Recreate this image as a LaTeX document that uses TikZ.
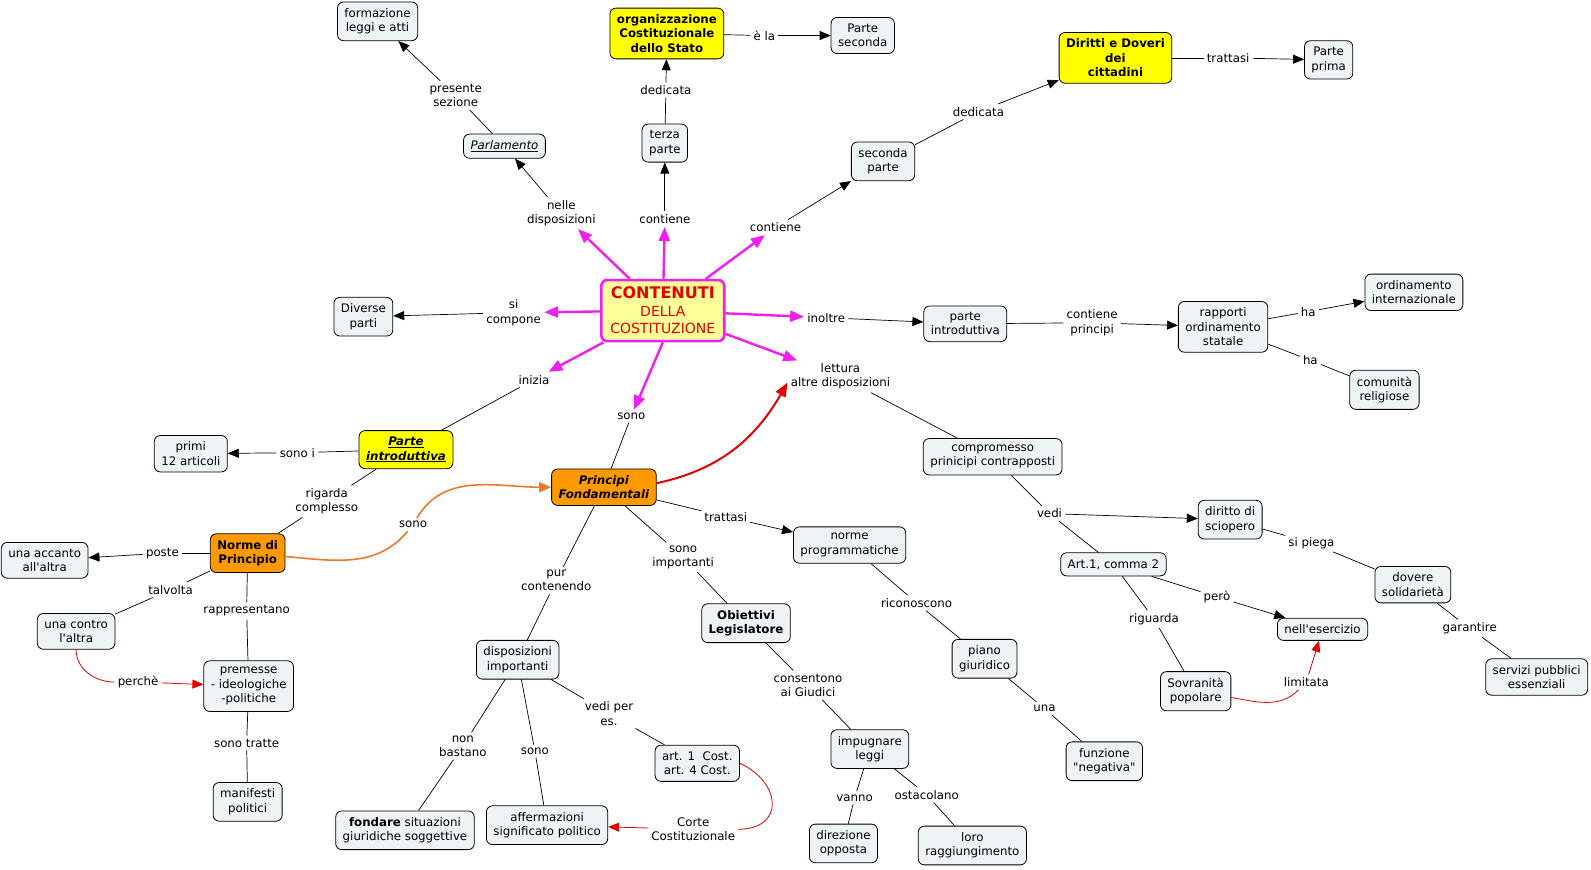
\documentclass[tikz,border=0pt]{standalone}
\usepackage{fontspec}
\setmainfont{DejaVu Sans}[Ligatures=TeXOff]
\usepackage{tikz}
\usetikzlibrary{arrows.meta}

\definecolor{boxfill}{RGB}{238,243,246}
\definecolor{cyellow}{RGB}{255,255,0}
\definecolor{corange}{RGB}{255,153,0}
\definecolor{contfill}{RGB}{255,255,153}
\definecolor{cmag}{RGB}{240,30,240}
\definecolor{cred}{RGB}{228,0,0}
\definecolor{corline}{RGB}{240,120,40}
\newcommand{\mapfont}{\fontsize{11.8}{14.3}\selectfont}

\begin{document}
\begin{tikzpicture}[x=1.015pt, y=1.015pt,
    concept/.style={rectangle, rounded corners=6pt, draw, line width=0.8pt, fill=boxfill, align=center, inner xsep=7pt, inner ysep=6.5pt, font=\mapfont},
    yconcept/.style={concept, fill=cyellow, font=\mapfont\bfseries},
    oconcept/.style={concept, fill=corange, font=\mapfont\bfseries},
    linkph/.style={align=center, inner sep=3pt, font=\mapfont},
    conn/.style={draw, line width=0.7pt},
    arr/.style={conn, -{Triangle[length=11pt,width=9pt]}},
    magarr/.style={draw=cmag, line width=2.4pt, -{Triangle[length=14pt,width=11pt]}},
    redarr/.style={draw=cred, line width=0.8pt, -{Triangle[length=11pt,width=9pt]}},
    redline/.style={draw=cred, line width=0.8pt}]
  \useasboundingbox (0,0) rectangle (1567.5,-856.2);

  \node[rectangle, rounded corners=6pt, draw=cmag, line width=2.6pt, fill=contfill, text=cred, align=center, inner xsep=9pt, inner ysep=7pt, font=\fontsize{14}{17.5}\selectfont] (cont) at (653,-306) {{\fontsize{16}{17.5}\selectfont\bfseries CONTENUTI}\\DELLA\\COSTITUZIONE};

  \node[concept] (form) at (372,-21) {formazione\\leggi e atti};
  \node[yconcept] (org) at (657,-33) {organizzazione\\Costituzionale\\dello Stato};
  \node[concept] (pseconda) at (850,-35) {Parte\\seconda};
  \node[yconcept] (dirdov) at (1099,-57) {Diritti e Doveri\\dei\\cittadini};
  \node[concept] (pprima) at (1309,-59) {Parte\\prima};
  \node[concept] (parl) at (497,-144) {\underline{\textit{Parlamento}}};
  \node[concept] (terza) at (655,-141) {terza\\parte};
  \node[concept] (seconda) at (870,-159) {seconda\\parte};
  \node[concept] (diverse) at (358,-312) {Diverse\\parti};
  \node[concept] (pintro) at (951,-319) {parte\\introduttiva};
  \node[concept] (rapp) at (1205,-322) {rapporti\\ordinamento\\statale};
  \node[concept] (ordint) at (1393,-288) {ordinamento\\internazionale};
  \node[concept] (comrel) at (1364,-384) {comunità\\religiose};
  \node[yconcept] (pintroy) at (400,-443) {\underline{\textit{Parte}}\\\underline{\textit{introduttiva}}};
  \node[concept] (primi) at (188,-447) {primi\\12 articoli};
  \node[oconcept] (princ) at (595,-480) {\textit{Principi}\\\textit{Fondamentali}};
  \node[concept] (compr) at (978,-450) {compromesso\\prinicipi contrapposti};
  \node[concept] (nprog) at (837,-537) {norme\\programmatiche};
  \node[oconcept] (nprinc) at (244,-545) {Norme di\\Principio};
  \node[concept] (accanto) at (44,-552) {una accanto\\all'altra};
  \node[concept] (sciop) at (1212,-512) {diritto di\\sciopero};
  \node[concept] (art1c) at (1097,-556) {Art.1, comma 2};
  \node[concept] (dovere) at (1392,-576) {dovere\\solidarietà};
  \node[concept] (eserc) at (1303,-620) {nell'esercizio};
  \node[concept] (contro) at (75,-622) {una contro\\l'altra};
  \node[concept, font=\mapfont\bfseries] (obiet) at (735,-614) {Obiettivi\\Legislatore};
  \node[concept] (dispimp) at (510,-650) {disposizioni\\importanti};
  \node[concept] (piano) at (970,-649) {piano\\giuridico};
  \node[concept] (premesse) at (245,-676) {premesse\\- ideologiche\\-politiche};
  \node[concept] (sovr) at (1178,-681) {Sovranità\\popolare};
  \node[concept] (servizi) at (1514,-667) {servizi pubblici\\essenziali};
  \node[concept] (art14) at (687,-752) {art. 1~~Cost.\\art. 4 Cost.};
  \node[concept] (impugn) at (857,-738) {impugnare\\leggi};
  \node[concept] (funz) at (1088,-750) {funzione\\"negativa"};
  \node[concept] (manif) at (244,-790) {manifesti\\politici};
  \node[concept] (fondare) at (399,-818) {\textbf{fondare} situazioni\\giuridiche soggettive};
  \node[concept] (afferm) at (539,-813) {affermazioni\\significato politico};
  \node[concept] (direz) at (831,-831) {direzione\\opposta};
  \node[concept] (loro) at (958,-833) {loro\\raggiungimento};

  \node[linkph] (lpres) at (449,-94) {presente\\sezione};
  \node[linkph] (lnelle) at (553,-210) {nelle\\disposizioni};
  \node[linkph] (lded1) at (656,-89) {dedicata};
  \node[linkph] (lcont1) at (655,-216) {contiene};
  \node[linkph] (lela) at (753,-35) {è la};
  \node[linkph] (lded2) at (964,-110) {dedicata};
  \node[linkph] (ltratt1) at (1210,-57) {trattasi};
  \node[linkph] (lcont2) at (764,-224) {contiene};
  \node[linkph] (lcomp) at (506,-308) {si\\compone};
  \node[linkph] (linol) at (814,-313) {inoltre};
  \node[linkph] (lcontpr) at (1076,-318) {contiene\\principi};
  \node[linkph] (lha1) at (1289,-307) {ha};
  \node[linkph] (lha2) at (1291,-355) {ha};
  \node[linkph] (llett) at (828,-371) {lettura\\altre disposizioni};
  \node[linkph] (liniz) at (526,-374) {inizia};
  \node[linkph] (lsono1) at (622,-410) {sono};
  \node[linkph] (lsonoi) at (293,-446) {sono i};
  \node[linkph] (lrig) at (322,-494) {rigarda\\complesso};
  \node[linkph] (lsono2) at (407,-517) {sono};
  \node[linkph] (ltratt2) at (715,-509) {trattasi};
  \node[linkph] (lvedi) at (1034,-506) {vedi};
  \node[linkph] (lpiega) at (1292,-535) {si piega};
  \node[linkph] (lposte) at (160,-545) {poste};
  \node[linkph] (lsonoimp) at (673,-549) {sono\\importanti};
  \node[linkph] (lpur) at (548,-572) {pur\\contenendo};
  \node[linkph] (ltalv) at (168,-581) {talvolta};
  \node[linkph] (lricon) at (903,-594) {riconoscono};
  \node[linkph] (lpero) at (1199,-588) {però};
  \node[linkph] (lrappr) at (243,-602) {rappresentano};
  \node[linkph] (lrigu) at (1137,-610) {riguarda};
  \node[linkph] (lgar) at (1448,-619) {garantire};
  \node[linkph] (lconsent) at (796,-675) {consentono\\ai Giudici};
  \node[linkph] (lperche) at (136,-672) {perchè};
  \node[linkph] (llimit) at (1287,-672) {limitata};
  \node[linkph] (lvediper) at (600,-703) {vedi per\\es.};
  \node[linkph] (luna) at (1029,-698) {una};
  \node[linkph] (lnonb) at (456,-735) {non\\bastano};
  \node[linkph] (lsono3) at (527,-740) {sono};
  \node[linkph] (lsonotr) at (243,-732) {sono tratte};
  \node[linkph] (lvanno) at (842,-786) {vanno};
  \node[linkph] (lostac) at (913,-783) {ostacolano};
  \node[linkph] (lcorte) at (683,-817) {Corte\\Costituzionale};

  \draw[magarr] (cont) -- (lnelle);
  \draw[magarr] (cont) -- (lcont1);
  \draw[magarr] (cont) -- (lcont2);
  \draw[magarr] (cont) -- (lcomp);
  \draw[magarr] (cont) -- (linol);
  \draw[magarr] (cont) -- (llett);
  \draw[magarr] (cont) -- (liniz);
  \draw[magarr] (cont.south) -- (lsono1);

  \draw[arr] (lnelle) -- (parl);
  \draw[conn] (parl) -- (lpres);
  \draw[arr] (lpres) -- (form);
  \draw[arr] (lcont1) -- (terza);
  \draw[conn] (terza) -- (lded1);
  \draw[arr] (lded1) -- (org);
  \draw[conn] (org) -- (lela);
  \draw[arr] (lela) -- (pseconda);
  \draw[arr] (lcont2) -- (seconda);
  \draw[conn] (seconda) -- (lded2);
  \draw[arr] (lded2) -- (dirdov);
  \draw[conn] (dirdov) -- (ltratt1);
  \draw[arr] (ltratt1) -- (pprima);
  \draw[arr] (lcomp) -- (diverse);
  \draw[arr] (linol) -- (pintro);
  \draw[conn] (pintro) -- (lcontpr);
  \draw[arr] (lcontpr) -- (rapp);
  \draw[conn] (rapp) -- (lha1);
  \draw[arr] (lha1) -- (ordint);
  \draw[conn] (rapp) -- (lha2);
  \draw[conn] (lha2) -- (comrel);
  \draw[conn] (llett) -- (compr);
  \draw[conn] (compr) -- (lvedi);
  \draw[arr] (lvedi) -- (sciop);
  \draw[conn] (lvedi) -- (art1c);
  \draw[conn] (sciop) -- (lpiega);
  \draw[conn] (lpiega) -- (dovere);
  \draw[conn] (dovere) -- (lgar);
  \draw[conn] (lgar) -- (servizi);
  \draw[conn] (art1c) -- (lpero);
  \draw[arr] (lpero) -- (eserc);
  \draw[conn] (art1c) -- (lrigu);
  \draw[conn] (lrigu) -- (sovr);
  \draw[redline] (sovr) to[out=-10,in=225] (llimit);
  \draw[redarr] (llimit) -- (eserc);

  \draw[conn] (liniz) -- (pintroy);
  \draw[conn] (pintroy) -- (lsonoi);
  \draw[arr] (lsonoi) -- (primi);
  \draw[conn] (pintroy) -- (lrig);
  \draw[conn] (lrig) -- (nprinc);
  \draw[conn] (nprinc) -- (lposte);
  \draw[arr] (lposte) -- (accanto);
  \draw[conn] (nprinc) -- (ltalv);
  \draw[conn] (ltalv) -- (contro);
  \draw[conn] (nprinc) -- (lrappr);
  \draw[conn] (lrappr) -- (premesse);
  \draw[conn] (premesse) -- (lsonotr);
  \draw[conn] (lsonotr) -- (manif);
  \draw[redline] (contro.south) to[out=-90,in=180] (lperche);
  \draw[redarr] (lperche) -- (premesse);
  \draw[draw=corline, line width=1.6pt] (nprinc) to[out=-5,in=-130] (lsono2);
  \draw[draw=corline, line width=1.6pt, -{Triangle[length=12pt,width=10pt]}] (lsono2) to[out=60,in=180] (princ);

  \draw[conn] (lsono1) -- (princ);
  \draw[draw=cred, line width=2pt, -{Triangle[length=14pt,width=11pt]}] ([yshift=4pt]princ.east) to[out=12,in=240] ([yshift=-6pt]llett.west);
  \draw[conn] (princ) -- (ltratt2);
  \draw[arr] (ltratt2) -- (nprog);
  \draw[conn] (princ) -- (lsonoimp);
  \draw[conn] (lsonoimp) -- (obiet);
  \draw[conn] (princ) -- (lpur);
  \draw[conn] (lpur) -- (dispimp);
  \draw[conn] (dispimp) -- (lnonb);
  \draw[conn] (lnonb) -- (fondare);
  \draw[conn] (dispimp) -- (lsono3);
  \draw[conn] (lsono3) -- (afferm);
  \draw[conn] (dispimp) -- (lvediper);
  \draw[conn] (lvediper) -- (art14);
  \draw[redline] (art14.east) to[out=-25,in=0,looseness=1.8] (lcorte.east);
  \draw[redarr] (lcorte) -- (afferm);
  \draw[conn] (obiet) -- (lconsent);
  \draw[conn] (lconsent) -- (impugn);
  \draw[conn] (impugn) -- (lvanno);
  \draw[conn] (lvanno) -- (direz);
  \draw[conn] (impugn) -- (lostac);
  \draw[conn] (lostac) -- (loro);
  \draw[conn] (nprog) -- (lricon);
  \draw[conn] (lricon) -- (piano);
  \draw[conn] (piano) -- (luna);
  \draw[conn] (luna) -- (funz);
\end{tikzpicture}
\end{document}
